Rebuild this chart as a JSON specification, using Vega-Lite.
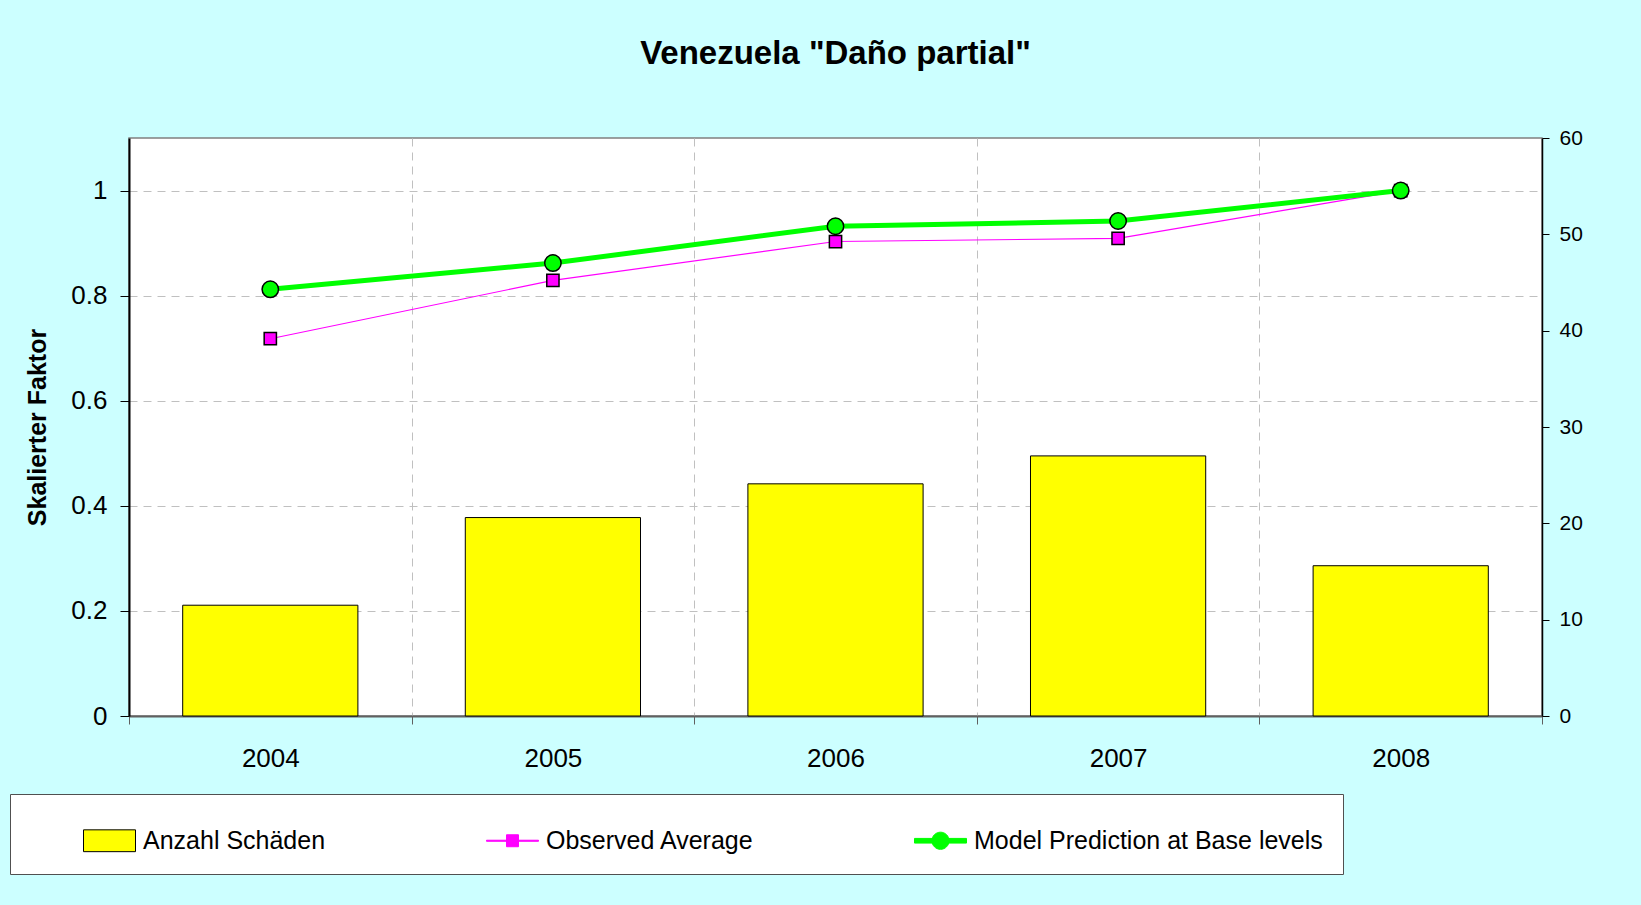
{
  "$schema": "https://vega.github.io/schema/vega-lite/v6.json",
  "width": 1413,
  "height": 578,
  "autosize": {"type": "none"},
  "padding": {"left": 129, "top": 138, "right": 99, "bottom": 189},
  "background": "#ccffff",
  "title": {
    "text": "Venezuela \"Daño partial\"",
    "anchor": "middle",
    "frame": "group",
    "font": "Liberation Sans",
    "fontSize": 33,
    "fontWeight": "bold",
    "color": "#000000",
    "baseline": "alphabetic",
    "offset": 30
  },
  "config": {
    "view": {"fill": "#ffffff", "stroke": "#808080", "strokeWidth": 1.5},
    "font": "Liberation Sans",
    "axis": {"labelFont": "Liberation Sans", "titleFont": "Liberation Sans", "labelColor": "#000000", "titleColor": "#000000"},
    "legend": {"labelFont": "Liberation Sans"}
  },
  "data": {
    "values": [
      {"year": "2004", "series": "Anzahl Schäden", "value": 11.5},
      {"year": "2005", "series": "Anzahl Schäden", "value": 20.6},
      {"year": "2006", "series": "Anzahl Schäden", "value": 24.1},
      {"year": "2007", "series": "Anzahl Schäden", "value": 27.0},
      {"year": "2008", "series": "Anzahl Schäden", "value": 15.6},
      {"year": "2004", "series": "Observed Average", "value": 0.718},
      {"year": "2005", "series": "Observed Average", "value": 0.829},
      {"year": "2006", "series": "Observed Average", "value": 0.903},
      {"year": "2007", "series": "Observed Average", "value": 0.909},
      {"year": "2008", "series": "Observed Average", "value": 1.0},
      {"year": "2004", "series": "Model Prediction at Base levels", "value": 0.812},
      {"year": "2005", "series": "Model Prediction at Base levels", "value": 0.862},
      {"year": "2006", "series": "Model Prediction at Base levels", "value": 0.932},
      {"year": "2007", "series": "Model Prediction at Base levels", "value": 0.942},
      {"year": "2008", "series": "Model Prediction at Base levels", "value": 1.0}
    ]
  },
  "encoding": {
    "x": {
      "field": "year",
      "type": "ordinal",
      "scale": {"paddingInner": 0, "paddingOuter": 0},
      "axis": {
        "title": null,
        "labelAngle": 0,
        "labelFontSize": 26,
        "labelPadding": 21,
        "tickBand": "extent",
        "tickSize": 8,
        "tickColor": "#606060",
        "domainColor": "#606060",
        "domainWidth": 2,
        "grid": true,
        "gridColor": "#c0c0c0",
        "gridDash": [8, 6],
        "gridWidth": 1
      }
    }
  },
  "layer": [
    {
      "transform": [{"filter": "datum.series === 'Anzahl Schäden'"}],
      "mark": {"type": "bar", "fill": "#ffff00", "stroke": "#000000", "strokeWidth": 1, "width": {"band": 0.62}},
      "encoding": {
        "y": {
          "field": "value",
          "type": "quantitative",
          "scale": {"domain": [0, 60], "nice": false},
          "axis": {
            "orient": "right",
            "title": null,
            "values": [0, 10, 20, 30, 40, 50, 60],
            "grid": false,
            "domainColor": "#000000",
            "domainWidth": 1.5,
            "tickColor": "#000000",
            "tickSize": 7,
            "labelFontSize": 21,
            "labelPadding": 10
          }
        }
      }
    },
    {
      "encoding": {
        "y": {
          "field": "value",
          "type": "quantitative",
          "scale": {"domain": [0, 1.1], "nice": false},
          "axis": {
            "orient": "left",
            "title": "Skalierter Faktor",
            "titleFontSize": 25,
            "titleFontWeight": "bold",
            "titleAngle": 270,
            "titleAlign": "center",
            "titleBaseline": "middle",
            "titleX": -92,
            "titleY": 289,
            "values": [0, 0.2, 0.4, 0.6, 0.8, 1],
            "format": "~g",
            "grid": true,
            "gridColor": "#c0c0c0",
            "gridDash": [8, 6],
            "gridWidth": 1,
            "domainColor": "#000000",
            "domainWidth": 2,
            "tickColor": "#000000",
            "tickSize": 9,
            "labelFontSize": 26,
            "labelPadding": 13
          }
        }
      },
      "layer": [
        {
          "transform": [{"filter": "datum.series === 'Observed Average'"}],
          "mark": {"type": "line", "color": "#ff00ff", "strokeWidth": 1.2},
          "encoding": {}
        },
        {
          "transform": [{"filter": "datum.series === 'Model Prediction at Base levels'"}],
          "mark": {"type": "line", "color": "#00ff00", "strokeWidth": 5},
          "encoding": {}
        },
        {
          "transform": [{"filter": "datum.series === 'Observed Average'"}],
          "mark": {"type": "point", "shape": "square", "filled": true, "fill": "#ff00ff", "size": 150, "stroke": "#000000", "strokeWidth": 1.5, "opacity": 1},
          "encoding": {}
        },
        {
          "transform": [{"filter": "datum.series === 'Model Prediction at Base levels'"}],
          "mark": {"type": "point", "shape": "circle", "filled": true, "fill": "#00ff00", "size": 270, "stroke": "#000000", "strokeWidth": 1.5, "opacity": 1},
          "encoding": {}
        },
        {
          "transform": [{"filter": "datum.series !== 'Anzahl Schäden'"}],
          "mark": {"type": "point", "filled": true, "opacity": 0, "strokeWidth": 1},
          "encoding": {
            "color": {
              "field": "series",
              "type": "nominal",
              "scale": {
                "domain": ["Anzahl Schäden", "Observed Average", "Model Prediction at Base levels"],
                "range": ["#ffff00", "#ff00ff", "#00ff00"]
              },
              "legend": {
                "title": " ",
                "titleFontSize": 1,
                "titleOrient": "left",
                "titlePadding": 53,
                "orient": "none",
                "direction": "horizontal",
                "legendX": -119,
                "legendY": 656,
                "padding": 20,
                "fillColor": "#ffffff",
                "strokeColor": "#505050",
                "labelFontSize": 25,
                "labelColor": "#000000",
                "labelOffset": 7,
                "labelLimit": 500,
                "columnPadding": 158,
                "symbolSize": 2704,
                "symbolOpacity": 1,
                "symbolStrokeWidth": 1,
                "symbolFillColor": "#ffff00"
              }
            },
            "stroke": {
              "field": "series",
              "type": "nominal",
              "scale": {
                "domain": ["Anzahl Schäden", "Observed Average", "Model Prediction at Base levels"],
                "range": ["#000000", "#ff00ff", "#00ff00"]
              },
              "legend": {"symbolFillColor": "#ffff00"}
            },
            "shape": {
              "field": "series",
              "type": "nominal",
              "scale": {
                "domain": ["Anzahl Schäden", "Observed Average", "Model Prediction at Base levels"],
                "range": [
                  "M-1,-0.42H1V0.42H-1Z",
                  "M-1,-0.02H1V0.02H-1Z M-0.23,-0.23H0.23V0.23H-0.23Z",
                  "M-1,-0.09H1V0.09H-1Z M-0.33,0A0.33,0.33 0 1,1 0.33,0A0.33,0.33 0 1,1 -0.33,0Z"
                ]
              },
              "legend": {"symbolFillColor": "#ffff00"}
            }
          }
        }
      ]
    }
  ],
  "resolve": {"scale": {"y": "independent"}}
}
